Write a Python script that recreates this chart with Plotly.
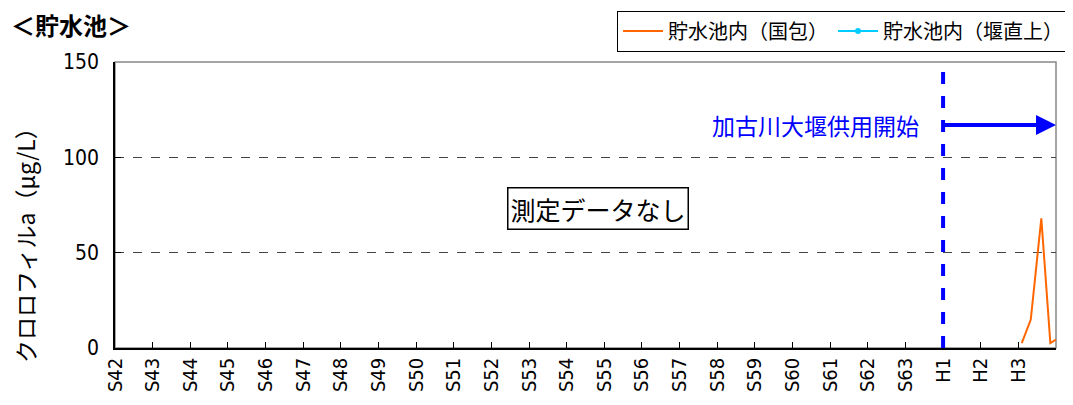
import plotly.graph_objects as go

# Year labels (Showa 42 .. Heisei 3), index 0 = S42
tick_labels = ["S%d" % n for n in range(42, 64)] + ["H1", "H2", "H3"]
tick_pos = list(range(len(tick_labels)))

# Chlorophyll-a observations (year index, value)
kuniga_x = [24.09, 24.33, 24.61, 24.85, 25.0]
kuniga_y = [2.6, 14.9, 68.0, 2.6, 4.4]
sekichokujo_x = []
sekichokujo_y = []

dam_start = 22  # H1
arrow_y = 117
nodata_y = 73

CJK = "Noto Sans CJK JP"
NARROW = "DejaVu Sans Condensed, Liberation Sans Narrow, " + CJK

fig = go.Figure()
fig.add_trace(go.Scatter(x=kuniga_x, y=kuniga_y, mode="lines", name="貯水池内（国包）",
                         line=dict(color="#FF6600", width=2)))
fig.add_trace(go.Scatter(x=sekichokujo_x if sekichokujo_x else [None],
                         y=sekichokujo_y if sekichokujo_y else [None],
                         mode="lines+markers", name="貯水池内（堰直上）",
                         line=dict(color="#00CCFF", width=2), marker=dict(size=6, color="#00CCFF")))

fig.add_shape(type="line", x0=dam_start, x1=dam_start, y0=0, y1=1, yref="paper",
              line=dict(color="#0000FF", width=4, dash="dash"))
fig.add_annotation(x=25, y=arrow_y, ax=dam_start, ay=arrow_y, xref="x", yref="y", axref="x", ayref="y",
                   showarrow=True, arrowhead=2, arrowsize=1, arrowwidth=4, arrowcolor="#0000FF", text="")
fig.add_annotation(x=dam_start, y=arrow_y, xref="x", yref="y", xanchor="right", xshift=-22,
                   text="加古川大堰供用開始", showarrow=False,
                   font=dict(family=CJK, size=23, color="#0000FF"))
fig.add_annotation(x=12.83, y=nodata_y, xref="x", yref="y", text="測定データなし", showarrow=False,
                   font=dict(family=CJK, size=25, color="black"), bordercolor="black", borderwidth=1.5,
                   borderpad=2, bgcolor="white")
fig.add_annotation(x=-0.1116, y=1.13, xref="paper", yref="paper", xanchor="left", yanchor="middle",
                   text="<b>＜貯水池＞</b>", showarrow=False, borderpad=0,
                   font=dict(family=CJK, size=24, color="black"))
fig.add_annotation(x=-0.0956, y=0.378, xref="paper", yref="paper", xanchor="center", yanchor="middle",
                   textangle=-90, text="クロロフィルa（μg/L）", showarrow=False, borderpad=0,
                   font=dict(family=CJK, size=23, color="black"))

fig.update_layout(
    width=1065, height=397,
    margin=dict(l=107, r=17, t=54, b=57, autoexpand=False),
    paper_bgcolor="white", plot_bgcolor="white",
    showlegend=True,
    legend=dict(orientation="h", x=0.5335, xanchor="left", y=1.18, yanchor="top",
                bordercolor="black", borderwidth=1, font=dict(family=CJK, size=20, color="black"),
                itemwidth=40, tracegroupgap=0),
    xaxis=dict(range=[0, 25], tickmode="array", tickvals=tick_pos, ticktext=tick_labels,
               tickangle=-90, ticks="inside", ticklen=6, tickcolor="black",
               showgrid=False, zeroline=False, showline=True, linecolor="black", linewidth=1.5,
               mirror=False, tickfont=dict(family=NARROW, size=20, color="black")),
    yaxis=dict(range=[0, 150], tickvals=[0, 50, 100, 150], ticks="inside", ticklen=6, tickcolor="black",
               ticklabelstandoff=10,
               showgrid=True, gridcolor="#444444", griddash="dash", gridwidth=1, zeroline=False,
               showline=True, linecolor="black", linewidth=1.5,
               tickfont=dict(family=NARROW, size=21, color="black")),
)
# gray top/right frame
fig.add_shape(type="rect", x0=0, x1=1, y0=0, y1=1, xref="paper", yref="paper",
              line=dict(color="#888888", width=1.5), layer="below")

fig.write_html("out.html")
